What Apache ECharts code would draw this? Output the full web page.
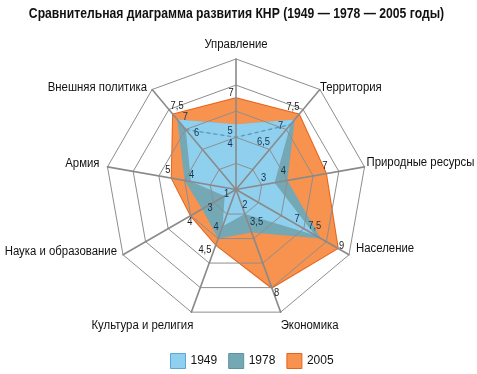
<!DOCTYPE html>
<html><head><meta charset="utf-8">
<script src="https://cdn.jsdelivr.net/npm/echarts@6/dist/echarts.min.js"></script>
<style>html,body{margin:0;padding:0;background:#fff}#c{width:477px;height:374px}</style>
</head><body><div id="c"></div>
<script>
// ---- data (clockwise from top, as read in the picture) ----
const indicatorNames = ['Управление','Территория','Природные ресурсы','Население','Экономика','Культура и религия','Наука и образование','Армия','Внешняя политика'];
const maxValue = 10;
const years = ['1949','1978','2005'];
const values1949 = [4, 6.5, 3, 7, 2, 3, 1, 3.5, 6];
const values1978 = [5, 7, 4, 7.5, 3.5, 4, 3, 4, 7];
const values2005 = [7, 7.5, 7, 9, 8, 4.5, 4, 5, 7.5];
// which values carry a printed label in the picture
const labeled1949 = [true, true, true, true, true, false, true, false, true];
const labeled1978 = [true, true, true, true, true, true, true, true, true];
const labeled2005 = [true, true, true, true, true, true, true, true, true];
const titleText = 'Сравнительная диаграмма развития КНР (1949 — 1978 — 2005 годы)';

// ---- styling / layout ----
const FONT = '"Liberation Sans", Arial, sans-serif';
const NARROW = 0.85;
const NAME_NARROW = 0.91;
const colors = {
  '1949': {fill:'#8fd0ef', border:'#5aa8d6'},
  '1978': {fill:'#74a8b5', border:'#5f92a0'},
  '2005': {fill:'#f7924f', border:'#e5641c'}
};
// label offsets (px) from each vertex, per series, clockwise order
const labelOffsets = {
  '2005': [[-5,-5],[-6,-8],[-1,-8],[4,-2],[5,5],[-11,5],[-1,6],[-4,-8],[4,-9]],
  '1978': [[-6,7],[-14,6],[-4,-9],[-6,-12],[5,-10],[-2,-12],[8,-1],[7,-5],[8,-3]],
  '1949': [[-6,7],[-27,17],[-11,-5],[-18,-16],[0,-9],[0,0],[2,-2],[0,0],[11,3]]
};
const labelColors = {'2005':'#1a1a1a','1978':'#17324a','1949':'#17324a'};
// indicator-name placement relative to the outer end of each axis
const nameLayout = [
  {dx:0, dy:-14, align:'center'},
  {dx:0, dy:-2, align:'left'},
  {dx:2, dy:-4, align:'left'},
  {dx:7, dy:-6, align:'left'},
  {dx:0, dy:13, align:'left'},
  {dx:2, dy:13, align:'right'},
  {dx:-6, dy:-3, align:'right'},
  {dx:-8, dy:-3, align:'right'},
  {dx:-5, dy:-2, align:'right'}
];

// ECharts lays radar indicators counter-clockwise; reorder so the picture's clockwise order appears
const order = [0,8,7,6,5,4,3,2,1];
const reorder = arr => order.map(i => arr[i]);

const chart = echarts.init(document.getElementById('c'), null, {renderer:'canvas'});
const seriesValues = {'1949': values1949, '1978': values1978, '2005': values2005};
const seriesLabeled = {'1949': labeled1949, '1978': labeled1978, '2005': labeled2005};

chart.setOption({
  animation: false,
  backgroundColor: '#fff',
  legend: {
    left: 165, top: 348, itemWidth: 15, itemHeight: 15, itemGap: 11, icon: 'rect',
    textStyle: {fontFamily: FONT, fontSize: 12, color: '#111'},
    data: years.map(y => ({name: y, itemStyle: {color: colors[y].fill, borderColor: colors[y].border, borderWidth: 1}}))
  },
  radar: {
    z: 10,
    center: [236, 189.5],
    radius: 130.5,
    startAngle: 90,
    splitNumber: 5,
    shape: 'polygon',
    axisName: {show: false},
    splitArea: {show: false},
    splitLine: {lineStyle: {color: '#8e8e8e', width: 1}},
    axisLine: {lineStyle: {color: '#8a8a8a', width: 1.6}},
    indicator: reorder(indicatorNames).map(n => ({name: n, max: maxValue, min: 0}))
  },
  series: [{
    type: 'radar',
    z: 2,
    symbol: 'none',
    data: ['2005','1978','1949'].map(y => ({
      name: y,
      value: reorder(seriesValues[y]),
      lineStyle: {color: colors[y].border, width: y === '2005' ? 2 : 0},
      itemStyle: {color: colors[y].fill, borderColor: colors[y].border},
      areaStyle: {color: colors[y].fill, opacity: 1}
    }))
  }]
});

// texts, value labels and the dashed 1949 outline, positioned through the radar coordinate system
function placeGraphics() {
  const cs = chart.getModel().getComponent('radar', 0).coordinateSystem;
  const pt = (v, i) => cs.dataToPoint(v, order.indexOf(i));
  const g = [];
  g.push({
    type: 'text', z: 100, x: 236.5, y: 14, scaleX: 0.84,
    style: {text: titleText, fill: '#111', font: 'bold 14.5px ' + FONT, align: 'center', verticalAlign: 'middle'}
  });
  indicatorNames.forEach((n, i) => {
    const p = pt(maxValue, i);
    const L = nameLayout[i];
    g.push({
      type: 'text', z: 100, x: p[0] + L.dx, y: p[1] + L.dy, scaleX: NAME_NARROW,
      style: {text: n, fill: '#111', font: '12.5px ' + FONT, align: L.align, verticalAlign: 'middle'}
    });
  });
  // the picture paints the band between the 1949 and 1978 outlines near the top in the 1949 colour
  const topIdx = [8, 0, 1];
  g.push({
    type: 'polygon', z: 5,
    shape: {points: topIdx.map(i => pt(values1978[i], i)).concat(topIdx.slice().reverse().map(i => pt(values1949[i], i)))},
    style: {fill: colors['1949'].fill, stroke: null}
  });
  g.push({
    type: 'polyline', z: 6,
    shape: {points: topIdx.map(i => pt(values1949[i], i))},
    style: {stroke: '#5a96b8', lineWidth: 1.3, lineDash: [4, 3], fill: null}
  });
  ['2005','1978','1949'].forEach(y => {
    seriesValues[y].forEach((v, i) => {
      if (!seriesLabeled[y][i]) return;
      const p = pt(v, i);
      const off = labelOffsets[y][i];
      g.push({
        type: 'text', z: 100, x: p[0] + off[0], y: p[1] + off[1], scaleX: NARROW,
        style: {text: String(v).replace('.', ','), fill: labelColors[y],
          font: '11px ' + FONT, align: 'center', verticalAlign: 'middle'}
      });
    });
  });
  chart.setOption({graphic: g});
}
placeGraphics();
</script>
</body></html>
